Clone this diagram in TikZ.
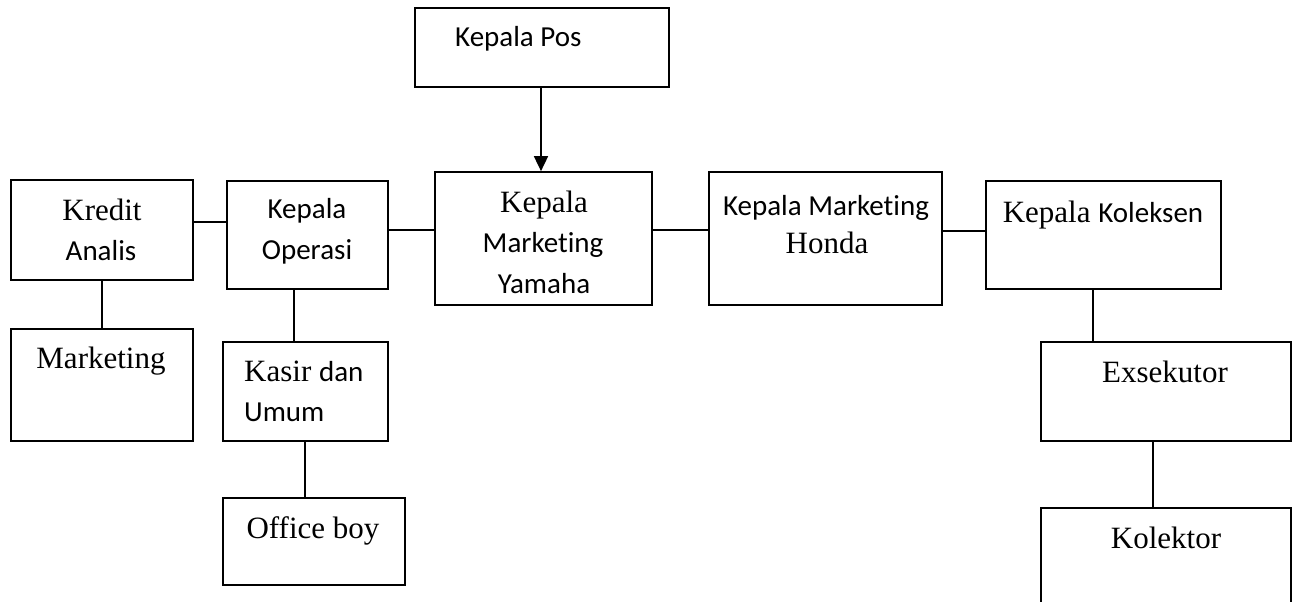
\documentclass[tikz,border=0pt]{standalone}
\usepackage{fontspec}
\setmainfont{Liberation Serif}
\newfontfamily\calibri[Ligatures=NoCommon]{Carlito}
\usetikzlibrary{arrows.meta, positioning}
\newcommand{\sanstext}[1]{{\calibri\fontsize{29}{35}\selectfont #1}}

\begin{document}
\begin{tikzpicture}[x=1pt, y=-1pt,
  box/.style={draw, line width=1.7pt, inner sep=0pt},
  rmtext/.style={font=\fontsize{31}{36}\selectfont, anchor=base, inner sep=0pt},
  sftext/.style={font=\calibri\fontsize{29}{35}\selectfont, anchor=base, inner sep=0pt}]
  \clip (0,0) rectangle (1303,602);

  % Boxes
  \node[box, minimum width=254pt, minimum height=79pt] (pos) at (542,47.5) {};
  \node[box, minimum width=217pt, minimum height=133pt] (yamaha) at (543.5,238.5) {};
  \node[box, minimum width=182pt, minimum height=100pt] (kredit) at (102,230) {};
  \node[box, minimum width=161pt, minimum height=108pt] (operasi) at (307.5,235) {};
  \node[box, minimum width=182pt, minimum height=112pt] (marketing) at (102,385) {};
  \node[box, minimum width=165pt, minimum height=99pt] (kasir) at (305.5,391.5) {};
  \node[box, minimum width=182pt, minimum height=87pt] (office) at (314,541.5) {};
  \node[box, minimum width=233pt, minimum height=133pt] (honda) at (825.5,238.5) {};
  \node[box, minimum width=235pt, minimum height=108pt] (koleksen) at (1103.5,235) {};
  \node[box, minimum width=250pt, minimum height=99pt] (eksekutor) at (1166,391.5) {};
  \node[box, minimum width=250pt, minimum height=132pt] (kolektor) at (1166,574) {};

  % Texts
  \node[sftext, anchor=base west] (posA) at (455,47) {Kepala Pos};
  \node[rmtext] (yamahaA) at (544,212) {Kepala};
  \node[sftext] (yamahaB) at (543,252) {Marketing};
  \node[sftext] (yamahaC) at (544,293) {Yamaha};
  \node[rmtext] (kreditA) at (102,220) {Kredit};
  \node[sftext] (kreditB) at (101,260) {Analis};
  \node[sftext] (operasiA) at (307,218) {Kepala};
  \node[sftext] (operasiB) at (307,259) {Operasi};
  \node[rmtext] (marketingA) at (101,368) {Marketing};
  \node[rmtext, anchor=base west] (kasirA) at (244,381) {Kasir \sanstext{dan}};
  \node[sftext, anchor=base west] (kasirB) at (244,421) {Umum};
  \node[rmtext] (officeA) at (313,538) {Office boy};
  \node[sftext] (hondaA) at (826,215) {Kepala Marketing};
  \node[rmtext] (hondaB) at (827,253) {Honda};
  \node[rmtext] (koleksenA) at (1103,222) {Kepala \sanstext{Koleksen}};
  \node[rmtext] (eksekutorA) at (1165,382) {Exsekutor};
  \node[rmtext] (kolektorA) at (1166,548) {Kolektor};

  % Connectors
  \draw[line width=1.7pt, -{Triangle[length=15pt, width=14pt]}] (pos.south -| 541,0) -- (yamaha.north -| 541,0);
  \draw[line width=1.7pt] (kredit.east |- 0,222) -- (operasi.west |- 0,222);
  \draw[line width=1.7pt] (kredit.south) -- (marketing.north);
  \draw[line width=1.7pt] (operasi.east |- 0,230) -- (yamaha.west |- 0,230);
  \draw[line width=1.7pt] (operasi.south -| 294,0) -- (kasir.north -| 294,0);
  \draw[line width=1.7pt] (kasir.south -| 305,0) -- (office.north -| 305,0);
  \draw[line width=1.7pt] (yamaha.east |- 0,230) -- (honda.west |- 0,230);
  \draw[line width=1.7pt] (honda.east |- 0,231) -- (koleksen.west |- 0,231);
  \draw[line width=1.7pt] (koleksen.south -| 1093,0) -- (eksekutor.north -| 1093,0);
  \draw[line width=1.7pt] (eksekutor.south -| 1153,0) -- (kolektor.north -| 1153,0);
\end{tikzpicture}
\end{document}
